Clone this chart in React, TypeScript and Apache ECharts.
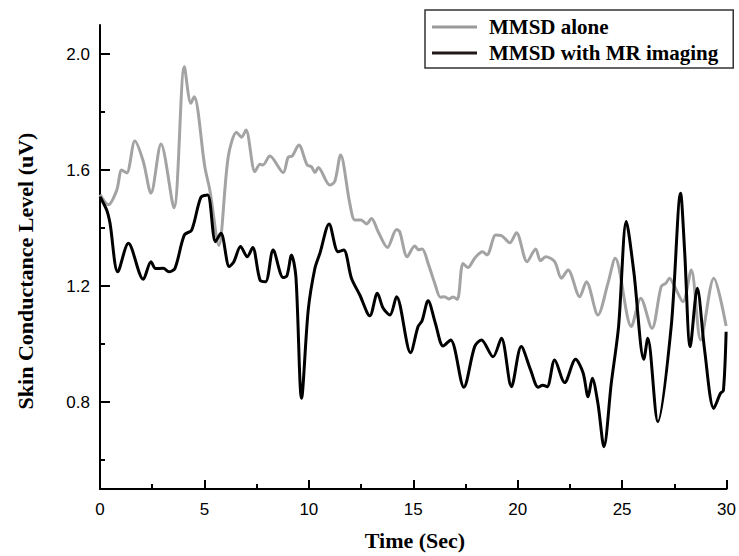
import React, { useEffect, useRef } from "react";
import * as echarts from "echarts";

const aloneTime = [0.0, 0.4, 0.8, 1.04, 1.28, 1.67, 2.07, 2.44, 2.92, 3.54, 4.04, 4.35, 4.51, 5.02, 5.26, 5.69, 6.14, 6.54, 6.78, 6.99, 7.42, 7.66, 7.8, 8.13, 8.77, 9.01, 9.2, 9.52, 9.92, 10.13, 10.29, 10.45, 11.0, 11.24, 11.52, 11.96, 12.2, 12.5, 12.76, 13.0, 13.32, 13.76, 14.2, 14.35, 14.71, 15.07, 15.25, 15.43, 15.71, 16.03, 16.3, 16.5, 16.7, 16.9, 17.11, 17.38, 17.62, 17.94, 18.31, 18.53, 18.95, 19.22, 19.62, 19.94, 20.45, 20.86, 21.09, 21.34, 21.77, 22.09, 22.41, 22.97, 23.29, 23.84, 24.32, 24.67, 25.44, 25.89, 26.43, 26.87, 27.1, 27.27, 27.5, 27.91, 28.31, 28.76, 29.39, 29.98];
const aloneValue = [1.515, 1.48, 1.53, 1.6, 1.59, 1.7, 1.63, 1.52, 1.69, 1.47, 1.956, 1.83, 1.853, 1.61, 1.53, 1.34, 1.646, 1.73, 1.713, 1.738, 1.594, 1.62, 1.617, 1.648, 1.591, 1.644, 1.648, 1.686, 1.617, 1.611, 1.591, 1.609, 1.548, 1.56, 1.652, 1.485, 1.428, 1.428, 1.414, 1.433, 1.387, 1.333, 1.395, 1.387, 1.301, 1.338, 1.325, 1.328, 1.278, 1.209, 1.161, 1.163, 1.155, 1.162, 1.154, 1.278, 1.264, 1.296, 1.318, 1.307, 1.376, 1.374, 1.349, 1.384, 1.284, 1.328, 1.287, 1.301, 1.284, 1.227, 1.255, 1.163, 1.215, 1.1, 1.209, 1.296, 1.06, 1.158, 1.054, 1.198, 1.21, 1.227, 1.2, 1.146, 1.255, 1.014, 1.227, 1.062];

const mrTime = [0.0, 0.32, 0.48, 0.85, 1.36, 2.07, 2.44, 2.66, 3.03, 3.3, 3.59, 4.04, 4.39, 4.83, 5.15, 5.53, 5.79, 6.19, 6.41, 6.73, 7.05, 7.31, 7.66, 7.93, 8.29, 8.77, 8.95, 9.17, 9.38, 9.65, 9.97, 10.29, 10.53, 10.97, 11.4, 11.67, 12.04, 12.44, 12.92, 13.28, 13.56, 13.88, 14.2, 14.87, 15.23, 15.42, 15.71, 16.06, 16.43, 16.79, 17.42, 17.94, 18.26, 18.82, 19.22, 19.7, 20.17, 20.62, 20.98, 21.2, 21.41, 21.77, 22.25, 22.77, 23.13, 23.37, 23.57, 23.84, 24.13, 24.48, 24.83, 25.2, 25.56, 26.04, 26.23, 26.71, 27.35, 27.8, 27.99, 28.26, 28.6, 28.95, 29.39, 29.71, 29.85, 29.98];
const mrValue = [1.508, 1.462, 1.416, 1.249, 1.347, 1.223, 1.284, 1.26, 1.261, 1.249, 1.261, 1.376, 1.393, 1.506, 1.514, 1.353, 1.382, 1.267, 1.284, 1.336, 1.301, 1.333, 1.221, 1.215, 1.324, 1.229, 1.235, 1.307, 1.232, 0.813, 1.117, 1.261, 1.313, 1.414, 1.318, 1.324, 1.227, 1.169, 1.097, 1.175, 1.123, 1.1, 1.163, 0.97, 1.06, 1.08, 1.149, 1.071, 0.993, 1.014, 0.851, 0.991, 1.014, 0.956, 1.02, 0.853, 0.991, 0.91, 0.851, 0.858, 0.853, 0.945, 0.867, 0.947, 0.901, 0.818, 0.882, 0.796, 0.646, 0.864, 1.06, 1.422, 1.249, 0.947, 1.02, 0.732, 1.06, 1.52, 1.324, 0.991, 1.192, 0.979, 0.778, 0.83, 0.84, 1.042];

const seriesNames = ["MMSD alone", "MMSD with MR imaging"];
const xTickLabels = [0, 5, 10, 15, 20, 25, 30];
const yMajorTicks = [0.8, 1.2, 1.6, 2.0];
const yMinorTicks = [0.6, 1.0, 1.4, 1.8];
const xTitle = "Time (Sec)";
const yTitle = "Skin Conductance Level (uV)";

export default function App() {
  const ref = useRef<HTMLDivElement>(null);
  useEffect(() => {
    if (!ref.current) return;
    const chart = echarts.init(ref.current, null, { renderer: "svg" });
    const serif = "'Liberation Serif', 'Times New Roman', serif";
    const sans = "'Liberation Sans', Arial, sans-serif";
    chart.setOption({
      animation: false,
      backgroundColor: "#ffffff",
      grid: { left: 100, right: 12, top: 25, bottom: 67, containLabel: false },
      legend: {
        orient: "vertical",
        left: 425,
        top: 10,
        padding: [5, 15, 3, 7],
        itemGap: 2,
        itemWidth: 45,
        itemHeight: 3,
        icon: "rect",
        borderColor: "#333333",
        borderWidth: 1.5,
        textStyle: {
          fontFamily: serif,
          fontWeight: "bold",
          fontSize: 21,
          color: "#000",
          lineHeight: 24,
          padding: [0, 0, 0, 7],
        },
        data: [
          { name: seriesNames[0], itemStyle: { color: "#9a9a9a" } },
          { name: seriesNames[1], itemStyle: { color: "#231818" } },
        ],
      },
      xAxis: {
        type: "value",
        min: 0,
        max: 30,
        interval: 5,
        axisLine: { show: true, onZero: false, lineStyle: { color: "#000", width: 2 } },
        axisTick: { show: true, inside: true, length: 9, lineStyle: { color: "#000", width: 2 } },
        minorTick: { show: true, splitNumber: 2, length: 5, lineStyle: { color: "#000", width: 2 } },
        axisLabel: {
          margin: 12,
          fontFamily: sans,
          fontSize: 17,
          color: "#000",
          formatter: (v: number) => (xTickLabels.includes(v) ? String(v) : ""),
        },
        splitLine: { show: false },
      },
      yAxis: [
        {
          type: "value",
          min: 0.5,
          max: 2.1,
          axisLine: { show: true, onZero: false, lineStyle: { color: "#000", width: 2 } },
          axisTick: { show: true, inside: true, length: 10, customValues: yMajorTicks, lineStyle: { color: "#000", width: 2 } },
          axisLabel: {
            margin: 10,
            fontFamily: sans,
            fontSize: 17,
            color: "#000",
            customValues: yMajorTicks,
            formatter: (v: number) => v.toFixed(1),
          },
          splitLine: { show: false },
        },
        {
          type: "value",
          min: 0.5,
          max: 2.1,
          position: "left",
          axisLine: { show: false },
          axisTick: { show: true, inside: true, length: 5, customValues: yMinorTicks, lineStyle: { color: "#000", width: 2 } },
          axisLabel: { show: false },
          splitLine: { show: false },
        },
      ],
      graphic: [
        {
          type: "text",
          x: 415,
          y: 540,
          style: {
            text: xTitle,
            fontFamily: serif,
            fontWeight: "bold",
            fontSize: 22,
            fill: "#000",
            textAlign: "center",
            textVerticalAlign: "middle",
          },
        },
        {
          type: "text",
          x: 25,
          y: 271,
          rotation: Math.PI / 2,
          style: {
            text: yTitle,
            fontFamily: serif,
            fontWeight: "bold",
            fontSize: 22,
            fill: "#000",
            textAlign: "center",
            textVerticalAlign: "middle",
          },
        },
      ],
      series: [
        {
          name: seriesNames[0],
          type: "line",
          smooth: 0.3,
          showSymbol: false,
          symbol: "none",
          yAxisIndex: 0,
          lineStyle: { color: "#a3a3a3", width: 3 },
          itemStyle: { color: "#a3a3a3" },
          data: aloneTime.map((t, i) => [t, aloneValue[i]]),
        },
        {
          name: seriesNames[1],
          type: "line",
          smooth: 0.3,
          showSymbol: false,
          symbol: "none",
          yAxisIndex: 0,
          lineStyle: { color: "#000000", width: 3 },
          itemStyle: { color: "#000000" },
          data: mrTime.map((t, i) => [t, mrValue[i]]),
        },
      ],
    });
    return () => chart.dispose();
  }, []);
  return <div ref={ref} style={{ width: 739, height: 556, position: "absolute", left: 0, top: 0 }} />;
}
